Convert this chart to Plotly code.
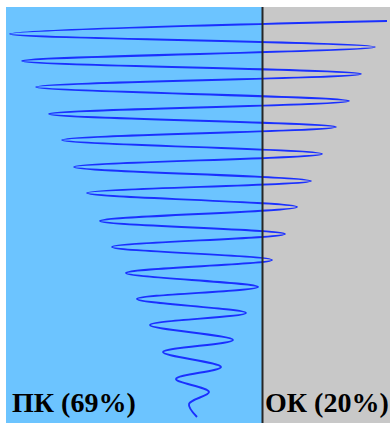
import plotly.graph_objects as go

# Turning points of the zigzag line, from top to bottom (pixel-like units)
wave_x = [387, 10, 375, 22, 361, 36, 349, 49, 336, 62, 322, 74, 311, 87, 297, 100,
          285, 112, 272, 126, 258, 137, 246, 150, 233, 163, 221, 176, 209, 189, 197]
wave_y = [21, 34, 47, 61, 74, 87, 101, 114, 127, 140, 154, 167, 181, 193, 207, 221,
          234, 247, 260, 273, 287, 299, 313, 325, 340, 352, 367, 379, 392, 404, 417]

# Regions and labels
x_min, x_max = 6, 390
y_top, y_bottom = 7, 423
divider_x = 262.5
region_labels = ["ПК (69%)", "ОК (20%)"]
label_x = [10, 263]
label_y = 420

fig = go.Figure()
fig.add_trace(go.Scatter(
    x=wave_x, y=wave_y, mode="lines",
    line=dict(color="#1a30ff", width=1.9, shape="spline", smoothing=1.0),
    hoverinfo="skip", showlegend=False,
))

# background regions
fig.add_shape(type="rect", xref="x", yref="y", x0=x_min, x1=divider_x, y0=y_top, y1=y_bottom,
              fillcolor="#6cc4ff", line_width=0, layer="below")
fig.add_shape(type="rect", xref="x", yref="y", x0=divider_x, x1=x_max, y0=y_top, y1=y_bottom,
              fillcolor="#c8c8c8", line_width=0, layer="below")
fig.add_shape(type="line", xref="x", yref="y", x0=divider_x, x1=divider_x, y0=y_top, y1=y_bottom,
              line=dict(color="#262626", width=2), layer="above")

for txt, lx in zip(region_labels, label_x):
    fig.add_annotation(x=lx, y=label_y, xref="x", yref="y", text="<b>%s</b>" % txt,
                       showarrow=False, xanchor="left", yanchor="bottom",
                       font=dict(family="Liberation Serif", size=28, color="#000000"))

fig.update_layout(
    width=390, height=423,
    margin=dict(l=x_min, r=0, t=y_top, b=0),
    paper_bgcolor="white", plot_bgcolor="white",
    xaxis=dict(range=[x_min, x_max], visible=False, fixedrange=True),
    yaxis=dict(range=[y_bottom, y_top], visible=False, fixedrange=True),
)

fig.write_html(
    "out.html",
    config={"displayModeBar": False},
    post_script="document.body.style.margin='0';document.body.style.padding='0';document.body.style.overflow='hidden';",
)
